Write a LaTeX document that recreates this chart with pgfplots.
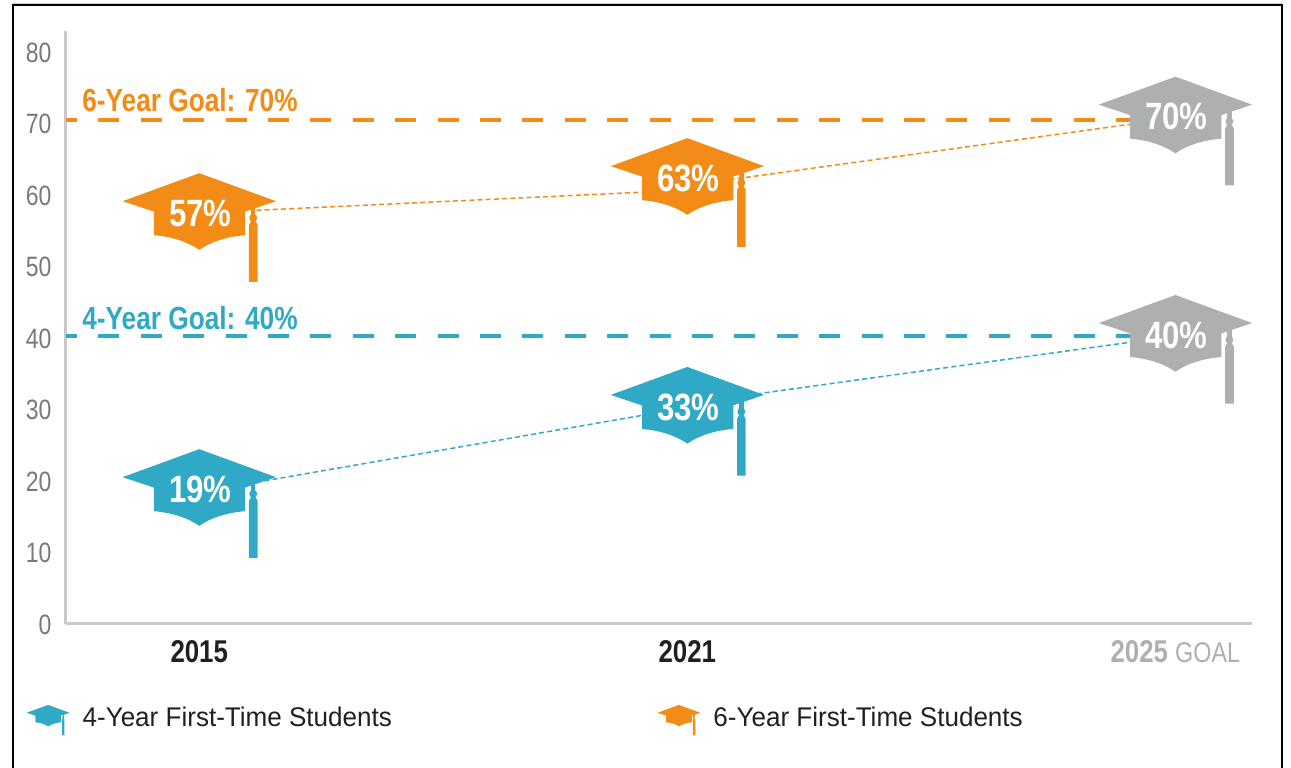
\documentclass[border=0pt]{standalone}
\usepackage{pgfplots}
\pgfplotsset{compat=1.18}
\usepackage{fontspec}
\setmainfont[FakeStretch=0.82]{Liberation Sans}
\newfontfamily\legfont[FakeStretch=0.965]{Liberation Sans}
\definecolor{capo}{HTML}{F38B17}
\definecolor{capb}{HTML}{2FA9C6}
\definecolor{capg}{HTML}{AEAFB1}
\definecolor{axisg}{HTML}{C8C9CB}
\definecolor{tickg}{HTML}{77797C}
\definecolor{txt}{HTML}{231F20}
\pgfdeclareplotmark{gradcap}{%
  \pgfpathmoveto{\pgfqpoint{0pt}{44.7pt}}%
  \pgfpathlineto{\pgfqpoint{76.7pt}{16.7pt}}%
  \pgfpathlineto{\pgfqpoint{46pt}{6.3pt}}%
  \pgfpathlineto{\pgfqpoint{46pt}{-17.3pt}}%
  \pgfpathcurveto{\pgfqpoint{25pt}{-19pt}}{\pgfqpoint{10pt}{-25pt}}{\pgfqpoint{0pt}{-32pt}}%
  \pgfpathcurveto{\pgfqpoint{-10pt}{-25pt}}{\pgfqpoint{-25pt}{-19pt}}{\pgfqpoint{-45.3pt}{-17.3pt}}%
  \pgfpathlineto{\pgfqpoint{-45.3pt}{6.3pt}}%
  \pgfpathlineto{\pgfqpoint{-76.6pt}{16.7pt}}%
  \pgfpathclose
  \pgfusepathqfill
  \pgfpathrectangle{\pgfqpoint{51.8pt}{0pt}}{\pgfqpoint{4.4pt}{10pt}}%
  \pgfusepathqfill
  \pgfpathcircle{\pgfqpoint{54pt}{0pt}}{4pt}%
  \pgfusepathqfill
  \pgfpathmoveto{\pgfqpoint{52pt}{-3pt}}%
  \pgfpathlineto{\pgfqpoint{56pt}{-3pt}}%
  \pgfpathlineto{\pgfqpoint{58.4pt}{-7pt}}%
  \pgfpathlineto{\pgfqpoint{58.4pt}{-64pt}}%
  \pgfpathlineto{\pgfqpoint{49.7pt}{-64pt}}%
  \pgfpathlineto{\pgfqpoint{49.7pt}{-7pt}}%
  \pgfpathclose
  \pgfusepathqfill
}
\newcommand{\fs}[1]{\fontsize{#1}{#1}\selectfont}
\pgfplotsset{
  capseries/.style={only marks, mark=gradcap, color=#1,
    mark options={solid, fill=#1, draw=none},
    point meta=explicit symbolic, nodes near coords,
    every node near coord/.append style={anchor=center, xshift=1pt, yshift=4.5pt,
      text=white, inner sep=0pt, font=\fs{38}\bfseries},
    forget plot},
  goalline/.style={color=#1, line width=3.5pt,
    dash pattern=on 21pt off 21.4pt, dash phase=10pt, forget plot},
  trend/.style={color=#1, line width=1.5pt,
    dash pattern=on 5pt off 3.2pt, forget plot},
}
\begin{document}
\begin{tikzpicture}[x=1pt,y=1pt]
\useasboundingbox (0,0) rectangle (1291,768);
\draw[axisg,line width=1pt] (13,764.5)--(1282,764.5);
\draw[black,line width=1.6pt] (13,0)--(13,763)--(1282,763)--(1282,0);
\begin{axis}[
  at={(66pt,144pt)}, anchor=south west,
  scale only axis, width=1186pt, height=592.7pt,
  xmin=-0.273, xmax=2.157, ymin=0, ymax=82.9,
  axis x line=bottom, axis y line=left,
  axis line style={-, draw=axisg, line width=3pt},
  major tick length=0pt,
  xtick={0,1,2},
  xticklabels={\textcolor{txt}{\fs{31.5}\bfseries 2015},\textcolor{txt}{\fs{31.5}\bfseries 2021},\textcolor{capg}{\fs{31.5}\bfseries 2025 \fs{28.5}\mdseries GOAL}},
  x tick label style={font=\fs{30}, anchor=center, yshift=-28pt},
  ytick={0,10,...,80},
  y tick label style={font=\fs{28}, text=tickg, anchor=east, xshift=-11pt, yshift=-0.8pt,
    /pgf/number format/assume math mode=true},
  clip=false,
  legend columns=2,
  legend cell align=left,
  legend style={draw=none, fill=none, font=\legfont\fs{27}\color{txt}, inner sep=0pt,
    at={(axis cs:-0.354,-13.45)}, anchor=west,
    /tikz/every even column/.append style={column sep=263.5pt},
    /tikz/every odd column/.append style={column sep=11pt}},
]
\addlegendimage{legend image code/.code={%
  \begin{scope}[scale=0.28,fill=capb,color=capb]\pgfuseplotmark{gradcap}\end{scope}}}
\addlegendentry{4-Year First-Time Students}
\addlegendimage{legend image code/.code={%
  \begin{scope}[scale=0.28,fill=capo,color=capo]\pgfuseplotmark{gradcap}\end{scope}}}
\addlegendentry{6-Year First-Time Students}

\addplot[goalline=capo] coordinates {(-0.273,70.5) (2,70.5)};
\addplot[goalline=capb] coordinates {(-0.273,40.3) (2,40.3)};
\addplot[trend=capo] coordinates {(0.117,57.86) (1.006,60.71) (1.027,61.58) (2,70.77)};
\addplot[trend=capb] coordinates {(0.117,19.82) (1.006,30.35) (1.027,31.1) (2,40.28)};

\addplot[capseries=capo] coordinates {(0,56.8) [57\%] (1,61.7) [63\%]};
\addplot[capseries=capb] coordinates {(0,18.2) [19\%] (1,29.7) [33\%]};
\addplot[capseries=capg] coordinates {(2,70.3) [70\%] (2,39.76) [40\%]};

\node[anchor=west, inner sep=0pt, text=capo, font=\fs{32}\bfseries] at (axis cs:-0.24,73.3) {6-Year Goal: 70\%};
\node[anchor=west, inner sep=0pt, text=capb, font=\fs{32}\bfseries] at (axis cs:-0.24,42.8) {4-Year Goal: 40\%};
\end{axis}
\end{tikzpicture}
\end{document}
